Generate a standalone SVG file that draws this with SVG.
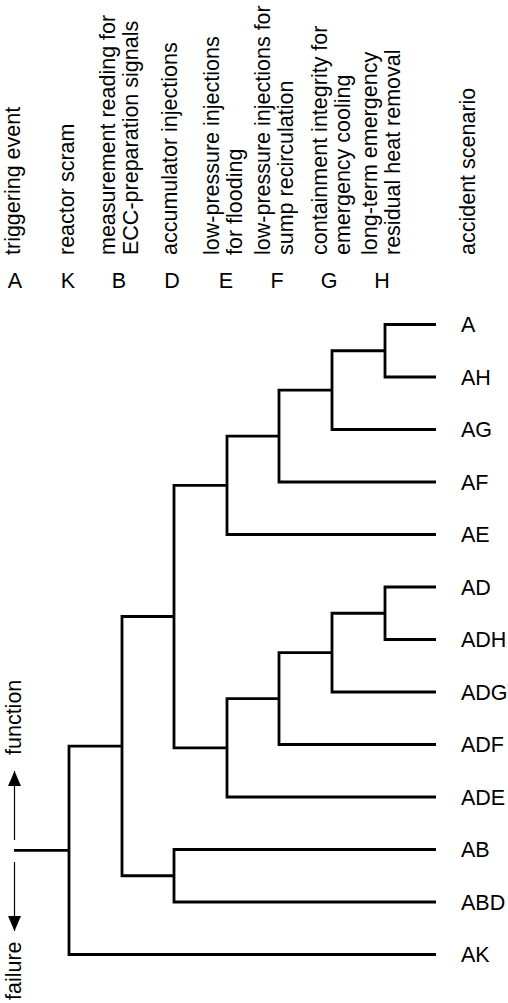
<svg xmlns="http://www.w3.org/2000/svg" width="508" height="1003" viewBox="0 0 508 1003">
<style>
text{font-family:"Liberation Sans",Arial,Helvetica,sans-serif;font-size:21.5px;fill:#000}
.letter{text-anchor:middle}
.tree path{fill:none;stroke:#000;stroke-width:2.8;stroke-linejoin:miter}
.arrow{stroke:#000;stroke-width:1.2}
</style>
<defs>
<marker id="ah" viewBox="0 0 15 13" markerWidth="15" markerHeight="13" refX="15" refY="6.5" orient="auto" markerUnits="userSpaceOnUse">
<path d="M0,0 L15,6.5 L0,13 z" fill="#000"/>
</marker>
</defs>
<rect width="508" height="1003" fill="#fff"/>

<g id="col-A">
<text transform="translate(20,255) rotate(-90)">triggering event</text>
<text class="letter" x="15" y="288">A</text>
</g>
<g id="col-K">
<text transform="translate(74,255) rotate(-90)">reactor scram</text>
<text class="letter" x="68" y="288">K</text>
</g>
<g id="col-B">
<text transform="translate(115,255) rotate(-90)">measurement reading for</text>
<text transform="translate(138,255) rotate(-90)">ECC-preparation signals</text>
<text class="letter" x="119" y="288">B</text>
</g>
<g id="col-D">
<text transform="translate(177,255) rotate(-90)">accumulator injections</text>
<text class="letter" x="172" y="288">D</text>
</g>
<g id="col-E">
<text transform="translate(218.5,255) rotate(-90)">low-pressure injections</text>
<text transform="translate(241.5,255) rotate(-90)">for flooding</text>
<text class="letter" x="226" y="288">E</text>
</g>
<g id="col-F">
<text transform="translate(270,255) rotate(-90)">low-pressure injections for</text>
<text transform="translate(293,255) rotate(-90)">sump recirculation</text>
<text class="letter" x="277" y="288">F</text>
</g>
<g id="col-G">
<text transform="translate(327,255) rotate(-90)">containment integrity for</text>
<text transform="translate(350,255) rotate(-90)">emergency cooling</text>
<text class="letter" x="329" y="288">G</text>
</g>
<g id="col-H">
<text transform="translate(377,255) rotate(-90)">long-term emergency</text>
<text transform="translate(400,255) rotate(-90)">residual heat removal</text>
<text class="letter" x="382" y="288">H</text>
</g>
<g id="col-scenario">
<text transform="translate(475,255) rotate(-90)">accident scenario</text>
</g>

<g id="connectors" class="tree">
<path d="M14,850.3 H69"/>
<path d="M122,746.1 H69 V954.5 H436"/>
<path d="M174,616.5 H122 V875.75 H174"/>
<path d="M227,485.3 H174 V747.8 H227"/>
<path d="M279,436.06 H227 V534.5 H436"/>
<path d="M332,390.1 H279 V482 H436"/>
<path d="M385,350.75 H332 V429.5 H436"/>
<path d="M436,324.5 H385 V377 H436"/>
<path d="M279,698.6 H227 V797 H436"/>
<path d="M332,652.6 H279 V744.5 H436"/>
<path d="M385,613.25 H332 V692 H436"/>
<path d="M436,587 H385 V639.5 H436"/>
<path d="M436,849.5 H174 V902 H436"/>
</g>

<g id="leaf-A"><text x="461" y="332">A</text></g>
<g id="leaf-AH"><text x="461" y="384.5">AH</text></g>
<g id="leaf-AG"><text x="461" y="437">AG</text></g>
<g id="leaf-AF"><text x="461" y="489.5">AF</text></g>
<g id="leaf-AE"><text x="461" y="542">AE</text></g>
<g id="leaf-AD"><text x="461" y="594.5">AD</text></g>
<g id="leaf-ADH"><text x="461" y="647">ADH</text></g>
<g id="leaf-ADG"><text x="461" y="699.5">ADG</text></g>
<g id="leaf-ADF"><text x="461" y="752">ADF</text></g>
<g id="leaf-ADE"><text x="461" y="804.5">ADE</text></g>
<g id="leaf-AB"><text x="461" y="857">AB</text></g>
<g id="leaf-ABD"><text x="461" y="909.5">ABD</text></g>
<g id="leaf-AK"><text x="461" y="962">AK</text></g>

<g id="legend">
<line class="arrow" x1="14.5" y1="840" x2="14.5" y2="771" marker-end="url(#ah)"/>
<line class="arrow" x1="14.5" y1="862" x2="14.5" y2="931" marker-end="url(#ah)"/>
<text transform="translate(21,755) rotate(-90)">function</text>
<text transform="translate(21,1000) rotate(-90)">failure</text>
</g>
</svg>
